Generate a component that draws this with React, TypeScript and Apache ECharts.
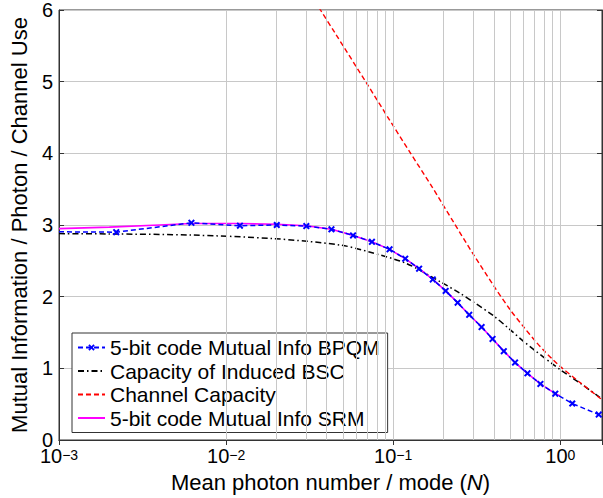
import { useEffect, useRef } from 'react';
import * as echarts from 'echarts';

// 5-bit code Mutual Info BPQM
const bpqmN = [0.001, 0.0022, 0.0062, 0.0121, 0.0201, 0.0302, 0.0427, 0.0575, 0.0746, 0.0951, 0.118, 0.1429, 0.1725, 0.206, 0.243, 0.285, 0.338, 0.393, 0.459, 0.536, 0.636, 0.76, 0.933, 1.179, 1.698];
const bpqmI = [2.905, 2.9, 3.03, 2.99, 3.0, 2.985, 2.94, 2.855, 2.765, 2.66, 2.53, 2.39, 2.24, 2.08, 1.916, 1.747, 1.576, 1.41, 1.24, 1.08, 0.93, 0.783, 0.646, 0.509, 0.355];

// Capacity of Induced BSC
const bscN = [0.001, 0.002, 0.00616, 0.01925, 0.0483, 0.0729, 0.1207, 0.1906, 0.25, 0.3, 0.4, 0.5, 0.6, 0.7, 0.8, 0.9, 1.0, 1.3, 1.715, 1.776];
const bscI = [2.88, 2.875, 2.86, 2.81, 2.72, 2.62, 2.46, 2.21, 2.05, 1.93, 1.73, 1.54, 1.38, 1.255, 1.15, 1.06, 0.98, 0.8, 0.6, 0.575];

// Channel Capacity
const capN = [0.034, 0.0367, 0.0451, 0.0697, 0.0925, 0.1263, 0.17, 0.231, 0.3, 0.4, 0.5, 0.6, 0.7, 0.8, 0.9, 1.0, 1.3, 1.715, 1.776];
const capI = [6.125, 6.0, 5.67, 4.97, 4.51, 4.01, 3.54, 3.03, 2.6, 2.15, 1.82, 1.585, 1.395, 1.245, 1.125, 1.025, 0.81, 0.59, 0.565];

// 5-bit code Mutual Info SRM
const srmN = [0.001, 0.002, 0.004, 0.0062, 0.0121, 0.0201, 0.0302, 0.0427, 0.0575, 0.0746, 0.0951, 0.118, 0.1429, 0.1725, 0.206, 0.243, 0.285, 0.338, 0.393, 0.459, 0.536, 0.636, 0.76, 0.933, 1.0];
const srmI = [2.95, 2.97, 3.0, 3.02, 3.02, 3.01, 2.99, 2.94, 2.855, 2.765, 2.66, 2.53, 2.39, 2.24, 2.08, 1.916, 1.747, 1.576, 1.41, 1.24, 1.08, 0.93, 0.783, 0.646, 0.615];

const seriesNames = [
  '5-bit code Mutual Info BPQM',
  'Capacity of Induced BSC',
  'Channel Capacity',
  '5-bit code Mutual Info SRM',
];

// vertical log grid lines (major and minor)
const gridX = [
  0.001, 0.002, 0.003, 0.004, 0.005, 0.006, 0.007, 0.008, 0.009,
  0.01, 0.02, 0.03, 0.04, 0.05, 0.06, 0.07, 0.08, 0.09,
  0.1, 0.2, 0.3, 0.4, 0.5, 0.6, 0.7, 0.8, 0.9,
  1,
];

const xMin = 0.001;
const xMax = 1.776;
const yMin = 0;
const yMax = 6;

const FONT = 'Liberation Sans';
const CROSS = 'path://M2,0L5,3L8,0L10,2L7,5L10,8L8,10L5,7L2,10L0,8L3,5L0,2Z';

const zip = (xs: number[], ys: number[]) => xs.map((x, i) => [x, ys[i]]);

export default function App() {
  const ref = useRef<HTMLDivElement>(null);
  useEffect(() => {
    const chart = echarts.init(ref.current!, null, { renderer: 'svg', width: 603, height: 498 });
    const gridColor = '#c8c8c8';
    const axisColor = '#333';
    const expFmt = (v: number) => {
      const e = Math.round(Math.log10(v));
      return `{b|10}{s|${e < 0 ? '\u2212' + -e : e}}`;
    };
    chart.setOption({
      animation: false,
      backgroundColor: '#fff',
      textStyle: { fontFamily: FONT, color: '#000' },
      grid: {
        left: 57.5,
        top: 9,
        right: 1,
        height: 436.3,
        show: true,
        borderColor: axisColor,
        borderWidth: 1,
        containLabel: false,
      },
      legend: {
        data: seriesNames.map((n, i) => (i === 0 ? { name: n } : { name: n, itemStyle: { opacity: 0 } })),
        orient: 'vertical',
        left: 72,
        top: 333,
        itemWidth: 27,
        itemHeight: 8,
        itemGap: 2.5,
        padding: [4, 8, 4, 5],
        backgroundColor: '#fff',
        borderColor: axisColor,
        borderWidth: 1,
        borderRadius: 0,
        textStyle: { fontFamily: FONT, fontSize: 21, color: '#000', lineHeight: 20 },
      },
      xAxis: [
        {
          type: 'log',
          logBase: 10,
          min: xMin,
          max: xMax,
          name: 'Mean photon number / mode ({i|N})',
          nameLocation: 'middle',
          nameGap: 31,
          nameTextStyle: {
            fontFamily: FONT,
            fontSize: 22,
            color: '#000',
            rich: { i: { fontFamily: FONT, fontSize: 22, fontStyle: 'italic', color: '#000' } },
          },
          axisLine: { show: true, lineStyle: { color: axisColor, width: 1 } },
          axisTick: { show: true, inside: true, length: 5, lineStyle: { color: axisColor } },
          splitLine: { show: false },
          axisLabel: {
            show: true,
            margin: 8,
            showMaxLabel: false,
            formatter: expFmt,
            rich: {
              b: { fontFamily: FONT, fontSize: 20, color: '#000', lineHeight: 16 },
              s: { fontFamily: FONT, fontSize: 14, color: '#000', lineHeight: 9, verticalAlign: 'top' },
            },
          },
        },
        {
          type: 'log',
          logBase: 10,
          min: xMin,
          max: xMax,
          position: 'top',
          axisLine: { show: true, lineStyle: { color: axisColor, width: 1 } },
          axisTick: { show: true, inside: true, length: 5, lineStyle: { color: axisColor } },
          splitLine: { show: false },
          axisLabel: { show: false },
        },
      ],
      yAxis: [
        {
          type: 'value',
          min: yMin,
          max: yMax,
          interval: 1,
          name: 'Mutual Information / Photon / Channel Use',
          nameLocation: 'middle',
          nameGap: 29,
          nameTextStyle: { fontFamily: FONT, fontSize: 22, color: '#000' },
          axisLine: { show: true, lineStyle: { color: axisColor, width: 1 } },
          axisTick: { show: true, inside: true, length: 5, lineStyle: { color: axisColor } },
          splitLine: { show: true, lineStyle: { color: gridColor, width: 1 } },
          axisLabel: { margin: 6, fontFamily: FONT, fontSize: 20, color: '#000', lineHeight: 12 },
        },
        {
          type: 'value',
          min: yMin,
          max: yMax,
          interval: 1,
          position: 'right',
          axisLine: { show: true, lineStyle: { color: axisColor, width: 1 } },
          axisTick: { show: true, inside: true, length: 5, lineStyle: { color: axisColor } },
          splitLine: { show: false },
          axisLabel: { show: false },
        },
      ],
      series: [
        {
          name: 'grid',
          type: 'line',
          data: [],
          z: 1,
          silent: true,
          markLine: {
            silent: true,
            symbol: ['none', 'none'],
            label: { show: false },
            lineStyle: { color: gridColor, width: 1, type: 'solid' },
            emphasis: { disabled: true },
            data: gridX.map((v) => ({ xAxis: v })),
          },
        },
        {
          name: seriesNames[1],
          type: 'line',
          z: 3,
          data: zip(bscN, bscI),
          showSymbol: false,
          symbol: 'circle',
          smooth: 0.3,
          lineStyle: { color: '#000', width: 1.5, type: [6, 3, 1.5, 3] },
          itemStyle: { color: '#000' },
        },
        {
          name: seriesNames[2],
          type: 'line',
          z: 3,
          data: zip(capN, capI),
          showSymbol: false,
          symbol: 'circle',
          smooth: 0.3,
          lineStyle: { color: '#ff0000', width: 1.4, type: [5, 3] },
          itemStyle: { color: '#ff0000' },
        },
        {
          name: seriesNames[3],
          type: 'line',
          z: 4,
          data: zip(srmN, srmI),
          showSymbol: false,
          symbol: 'circle',
          lineStyle: { color: '#ff00ff', width: 1.6, type: 'solid' },
          itemStyle: { color: '#ff00ff' },
        },
        {
          name: seriesNames[0],
          type: 'line',
          z: 5,
          data: zip(bpqmN, bpqmI).map((p, i) => (i === 0 ? { value: p, symbol: 'none' } : { value: p })),
          symbol: CROSS,
          symbolSize: 7,
          showAllSymbol: true,
          lineStyle: { color: '#0000ff', width: 1.5, type: [5, 3] },
          itemStyle: { color: '#0000ff', borderWidth: 0 },
        },
      ],
    });
    return () => chart.dispose();
  }, []);
  return <div ref={ref} style={{ position: 'absolute', left: 0, top: 0, width: 603, height: 498 }} />;
}
